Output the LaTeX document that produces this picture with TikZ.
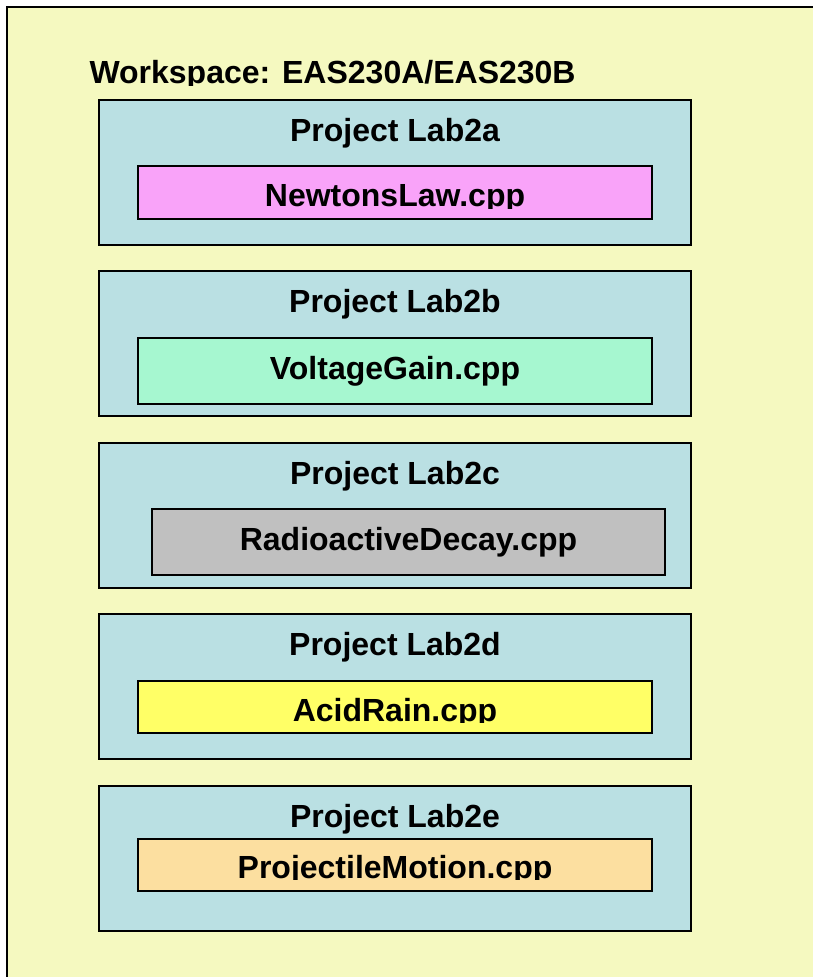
\documentclass[tikz,border=0pt]{standalone}
\usepackage{fontspec}
\setmainfont{Liberation Sans}
\definecolor{wsyellow}{RGB}{245,249,192}
\definecolor{projblue}{RGB}{186,224,227}
\definecolor{fpink}{RGB}{249,163,249}
\definecolor{fmint}{RGB}{166,247,208}
\definecolor{fgray}{RGB}{192,192,192}
\definecolor{fyellow}{RGB}{255,255,102}
\definecolor{forange}{RGB}{252,223,160}
\begin{document}
\begin{tikzpicture}[x=1pt,y=-1pt,
  projbox/.style={draw=black, line width=2pt, fill=projblue, minimum width=592pt, minimum height=145pt, inner sep=0pt},
  filebox/.style={draw=black, line width=2pt, minimum width=514pt, inner sep=0pt},
  lbl/.style={inner sep=0pt, outer sep=0pt, anchor=base, font=\fontsize{32}{36}\selectfont\bfseries}
]
\useasboundingbox (0,0) rectangle (813,977);
\clip (0,0) rectangle (813,977);
\fill[white] (0,0) rectangle (813,977);
\node[draw=black, line width=1.5pt, fill=wsyellow, minimum width=893pt, minimum height=1093pt, inner sep=0pt] (ws) at (453.5,553.5) {};
\begin{scope}
  \clip (0,0) rectangle (813,85);
  \node[lbl, anchor=base west] (wslabel) at (89.5,83.5) {Workspace: EAS230A/EAS230B};
\end{scope}
% projects
\node[projbox] (pa) at (395,172.5) {};
\node[projbox] (pb) at (395,343.5) {};
\node[projbox] (pc) at (395,515.5) {};
\node[projbox] (pd) at (395,686.5) {};
\node[projbox] (pe) at (395,858.5) {};
% files
\node[filebox, fill=fpink, minimum height=53pt] (fa) at (395,192.5) {};
\node[filebox, fill=fmint, minimum height=66pt] (fb) at (395,371) {};
\node[filebox, fill=fgray, minimum width=513pt, minimum height=66pt] (fc) at (408.5,542) {};
\node[filebox, fill=fyellow, minimum height=52pt] (fd) at (395,707) {};
\node[filebox, fill=forange, minimum height=52pt] (fe) at (395,865) {};
% project labels
\node[lbl] (la) at (395,141) {Project Lab2a};
\node[lbl] (lb) at (395,312.5) {Project Lab2b};
\node[lbl] (lc) at (395,484) {Project Lab2c};
\node[lbl] (ld) at (395,655.5) {Project Lab2d};
\node[lbl] (le) at (395,827) {Project Lab2e};
% file labels
\begin{scope}
  \clip (0,0) rectangle (813,208);
  \node[lbl] (ta) at (395,206) {NewtonsLaw.cpp};
\end{scope}
\node[lbl] (tb) at (395,379) {VoltageGain.cpp};
\node[lbl] (tc) at (408.5,550) {RadioactiveDecay.cpp};
\begin{scope}
  \clip (0,600) rectangle (813,722.5);
  \node[lbl] (td) at (395,721) {AcidRain.cpp};
\end{scope}
\begin{scope}
  \clip (0,780) rectangle (813,879.5);
  \node[lbl] (te) at (395,878) {ProjectileMotion.cpp};
\end{scope}
\end{tikzpicture}
\end{document}
